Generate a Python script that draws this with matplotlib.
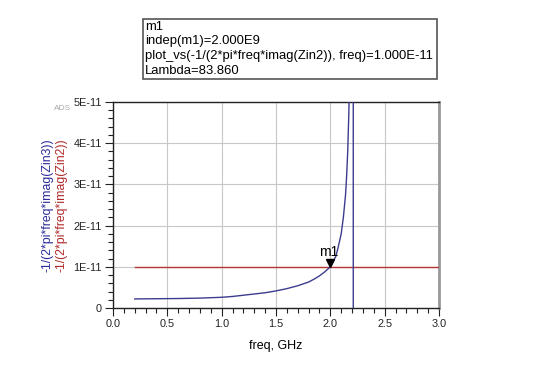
import matplotlib
matplotlib.use("Agg")
import matplotlib.pyplot as plt
from matplotlib.ticker import MultipleLocator, FuncFormatter
import matplotlib.transforms as mtransforms

plt.rcParams['font.family'] = ['Liberation Sans', 'DejaVu Sans']

# Data (freq in GHz, values in units of 1E-11 F)
freq_zin3 = [0.20, 0.40, 0.60, 0.80, 1.00, 1.10, 1.20, 1.30, 1.40, 1.50, 1.60, 1.70,
             1.80, 1.85, 1.90, 1.95, 2.00, 2.05, 2.07, 2.10, 2.12, 2.14, 2.15, 2.16,
             2.17, 2.18, 2.19, 2.20, 2.21, 2.212, 2.25, 2.50, 3.00]
cap_zin3_e11 = [0.22, 0.225, 0.23, 0.24, 0.26, 0.28, 0.31, 0.34, 0.37, 0.415, 0.47, 0.54,
                0.63, 0.70, 0.78, 0.88, 1.00, 1.25, 1.45, 1.80, 2.20, 2.75, 3.20, 3.80,
                4.70, 6.00, 8.50, 15.0, 60.0, -60.0, -8.0, -1.5, -0.6]
freq_zin2 = [0.2, 3.0]
cap_zin2_e11 = [1.0, 1.0]

marker_freq = 2.0
marker_val_e11 = 1.0
marker_lines = ["m1", "indep(m1)=2.000E9",
                "plot_vs(-1/(2*pi*freq*imag(Zin2)), freq)=1.000E-11",
                "Lambda=83.860"]
ylabel_blue = "-1/(2*pi*freq*imag(Zin3))"
ylabel_red = "-1/(2*pi*freq*imag(Zin2))"
xlabel = "freq, GHz"

cap_zin3 = [v * 1e-11 for v in cap_zin3_e11]
cap_zin2 = [v * 1e-11 for v in cap_zin2_e11]
marker_val = marker_val_e11 * 1e-11

blue = '#3c3c8e'
red = '#b83434'

fig = plt.figure(figsize=(5.4, 3.8), dpi=100)
ax = fig.add_axes([113/540, 1-308/380, 326/540, 206/380])

ax.plot(freq_zin2, cap_zin2, color=red, lw=1.0, zorder=3)
ax.plot(freq_zin3, cap_zin3, color=blue, lw=1.0, zorder=4)

ax.set_xlim(0, 3.0)
ax.set_ylim(0, 5e-11)
ax.xaxis.set_major_locator(MultipleLocator(0.5))
ax.xaxis.set_minor_locator(MultipleLocator(0.1))
ax.yaxis.set_major_locator(MultipleLocator(1e-11))
ax.yaxis.set_minor_locator(MultipleLocator(0.2e-11))

def yfmt(v, pos):
    n = int(round(v / 1e-11))
    return "0" if n == 0 else f"{n}E-11"
ax.yaxis.set_major_formatter(FuncFormatter(yfmt))
ax.xaxis.set_major_formatter(FuncFormatter(lambda v, p: f"{v:.1f}"))

ax.grid(True, which='major', color='#c8c8c8', lw=0.8)
ax.set_axisbelow(True)
ax.tick_params(which='major', length=6, width=0.8, labelsize=7.8, colors='#222222', pad=2)
ax.tick_params(which='minor', length=3.5, width=0.8, colors='#222222')

for s in ['left', 'bottom', 'top']:
    ax.spines[s].set_color('#222222')
    ax.spines[s].set_linewidth(1.0)
ax.spines['right'].set_color('#999999')
ax.spines['right'].set_linewidth(2.0)

ax.set_xlabel(xlabel, fontsize=9, labelpad=8)

# marker
trans = mtransforms.offset_copy(ax.transData, fig=fig, x=0, y=3.0, units='points')
ax.plot([marker_freq], [marker_val], marker='v', color='black', ms=6,
        transform=trans, zorder=6, clip_on=False)
ax.annotate("m1", (marker_freq, marker_val), xytext=(-1.5, 11), textcoords='offset points',
            ha='center', va='center', fontsize=10, zorder=6)

# y labels
fig.text(48/540, 1-205/380, ylabel_blue, rotation=90, color='#2a2a9a', fontsize=8.8,
         ha='center', va='center')
fig.text(62/540, 1-205/380, ylabel_red, rotation=90, color='#b02828', fontsize=8.8,
         ha='center', va='center')
fig.text(63/540, 1-108/380, "ADS", color='#aaaaaa', fontsize=6, ha='center', va='center')

# marker box
box = plt.Rectangle((143/540, 1-79/380), (437-143)/540, (79-19)/380, transform=fig.transFigure,
                    facecolor='white', edgecolor='#555555', lw=1.2)
fig.patches.append(box)
for i, line in enumerate(marker_lines):
    fig.text(145/540, 1-(26.5 + i*14.7)/380, line, fontsize=9.4, ha='left', va='center')

fig.savefig("out.png", dpi=100)
